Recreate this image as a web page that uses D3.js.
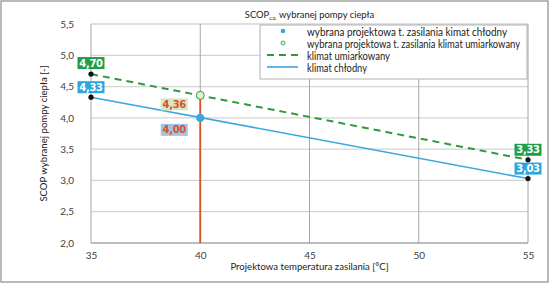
<!DOCTYPE html>
<html><head><meta charset="utf-8">
<script src="https://cdn.jsdelivr.net/npm/d3@7"></script>
<style>body{margin:0;background:#fff}svg{display:block;font-family:Lato,"Open Sans",sans-serif}</style>
</head><body>
<svg id="c" width="550" height="284"></svg>
<script>
const temps = [35, 55];
const coldValues = [4.33, 3.03];
const mildValues = [4.70, 3.33];
const selectedTemp = 40;
const selectedCold = 4.00;
const selectedMild = 4.36;
const xTicks = [35, 40, 45, 50, 55];
const yTicks = [2.0, 2.5, 3.0, 3.5, 4.0, 4.5, 5.0, 5.5];
const legendLabels = ["wybrana projektowa t. zasilania kimat chłodny","wybrana projektowa t. zasilania klimat umiarkowany","klimat umiarkowany","klimat chłodny"];
const legendWidths = [200, 213, 83, 60];

const svg = d3.select("#c");
const x = d3.scaleLinear().domain([35,55]).range([91,528]);
const y = d3.scaleLinear().domain([2,5.5]).range([243,24]);
const fmt = v => d3.format(".2f")(v).replace(".", ",");
const GREEN="#2f9a3c", BLUE="#3ba7de", RED="#d9502c";

svg.append("rect").attr("x",1).attr("y",1).attr("width",547).attr("height",281).attr("fill","#fff").attr("stroke","#8c8c8c").attr("stroke-width",1.2);

// horizontal grid
svg.append("g").selectAll("line").data(yTicks).join("line")
  .attr("x1",x(35)).attr("x2",x(55)).attr("y1",d=>y(d)).attr("y2",d=>y(d))
  .attr("stroke",d=>d===2?"#a6a6a6":"#d4d4d4").attr("stroke-width",1.3);
// vertical grid
svg.append("g").selectAll("line").data(xTicks).join("line")
  .attr("x1",d=>x(d)).attr("x2",d=>x(d)).attr("y1",y(5.5)).attr("y2",y(2))
  .attr("stroke","#a6a6a6").attr("stroke-width",1);

// axes labels via d3 axes
const yAxis = svg.append("g").attr("transform",`translate(${x(35)-14},0)`)
  .call(d3.axisLeft(y).tickValues(yTicks).tickFormat(d=>d3.format(".1f")(d).replace(".",",")).tickSize(0));
yAxis.select(".domain").remove();
yAxis.selectAll("text").attr("font-size",10).attr("fill","#404040").attr("font-family","Lato");
const xAxis = svg.append("g").attr("transform",`translate(0,${y(2)+6})`)
  .call(d3.axisBottom(x).tickValues(xTicks).tickFormat(d3.format("d")).tickSize(0));
xAxis.select(".domain").remove();
xAxis.selectAll("text").attr("font-size",10).attr("fill","#404040").attr("font-family","Lato");

// titles
const t = svg.append("text").attr("x",(x(35)+x(55))/2).attr("y",18).attr("text-anchor","middle").attr("font-size",9.4).attr("fill","#222");
t.append("tspan").text("SCOP");
t.append("tspan").text("c.o.").attr("font-size",5).attr("dy",2);
t.append("tspan").text(" wybranej pompy ciepła").attr("dy",-2);
svg.append("text").attr("x",(x(35)+x(55))/2).attr("y",270).attr("text-anchor","middle").attr("font-size",9.6).attr("fill","#222").text("Projektowa temperatura zasilania [°C]");
svg.append("text").attr("transform",`translate(47,${(y(2)+y(5.5))/2}) rotate(-90)`).attr("text-anchor","middle").attr("font-size",9.6).attr("fill","#222").text("SCOP wybranej pompy ciepła [-]");

// red line
svg.append("line").attr("x1",x(selectedTemp)).attr("x2",x(selectedTemp)).attr("y1",y(selectedMild)).attr("y2",y(2)).attr("stroke",RED).attr("stroke-width",1.8);

// series lines
const line = d3.line().x(d=>x(d[0])).y(d=>y(d[1]));
svg.append("path").datum(d3.zip(temps,mildValues)).attr("d",line).attr("fill","none").attr("stroke",GREEN).attr("stroke-width",2).attr("stroke-dasharray","7,5");
svg.append("path").datum(d3.zip(temps,coldValues)).attr("d",line).attr("fill","none").attr("stroke",BLUE).attr("stroke-width",1.6);

// endpoint black dots
const ends = d3.zip(temps,mildValues).concat(d3.zip(temps,coldValues));
svg.append("g").selectAll("circle").data(ends).join("circle").attr("cx",d=>x(d[0])).attr("cy",d=>y(d[1])).attr("r",2.6).attr("fill","#111");

// selected points
svg.append("circle").attr("cx",x(selectedTemp)).attr("cy",y(selectedMild)).attr("r",4).attr("fill","#e3f0d6").attr("stroke",GREEN).attr("stroke-width",1);
svg.append("circle").attr("cx",x(selectedTemp)).attr("cy",y(selectedCold)).attr("r",4.2).attr("fill",BLUE);

// labels
function label(cx, cy, text, bg, fg){
  const w=27, h=12;
  svg.append("rect").attr("x",cx-w/2).attr("y",cy-h/2).attr("width",w).attr("height",h).attr("fill",bg);
  svg.append("text").attr("x",cx).attr("y",cy).attr("dy","0.36em").attr("text-anchor","middle").attr("font-size",10).attr("font-weight","bold").attr("fill",fg).attr("font-family","Verdana, DejaVu Sans").attr("letter-spacing",-0.3).text(text);
}
label(x(35), y(mildValues[0])-11, fmt(mildValues[0]), "#1f9e49", "#fff");
label(x(35), y(coldValues[0])-10, fmt(coldValues[0]), "#2ba6df", "#fff");
label(x(55), y(mildValues[1])-10, fmt(mildValues[1]), "#1f9e49", "#fff");
label(x(55), y(coldValues[1])-10, fmt(coldValues[1]), "#2ba6df", "#fff");
label(x(selectedTemp)-26, y(selectedMild)+9, fmt(selectedMild), "#d8e6c2", RED);
label(x(selectedTemp)-26, y(selectedCold)+12, fmt(selectedCold), "#9fc4e8", RED);

// legend
const lg = svg.append("g");
lg.append("rect").attr("x",260).attr("y",25).attr("width",267).attr("height",54).attr("fill","#fff").attr("stroke","#b0b0b0").attr("stroke-width",1);
const rowsY=[31,43,55,67], textY=[32,44,56,68];
lg.append("circle").attr("cx",283).attr("cy",rowsY[0]).attr("r",2.3).attr("fill",BLUE);
lg.append("circle").attr("cx",283).attr("cy",rowsY[1]).attr("r",2).attr("fill","#e3f0d6").attr("stroke",GREEN).attr("stroke-width",0.8);
lg.append("line").attr("x1",267).attr("x2",298).attr("y1",rowsY[2]).attr("y2",rowsY[2]).attr("stroke",GREEN).attr("stroke-width",2).attr("stroke-dasharray","7,5");
lg.append("line").attr("x1",267).attr("x2",298).attr("y1",rowsY[3]).attr("y2",rowsY[3]).attr("stroke",BLUE).attr("stroke-width",1.6);
lg.selectAll("text.l").data(legendLabels).join("text").attr("class","l").attr("x",307).attr("y",(d,i)=>textY[i]).attr("dy","0.35em").attr("font-size",10.5).attr("fill","#222")
  .attr("textLength",(d,i)=>legendWidths[i]).attr("lengthAdjust","spacingAndGlyphs").text(d=>d);
</script>
</body></html>
